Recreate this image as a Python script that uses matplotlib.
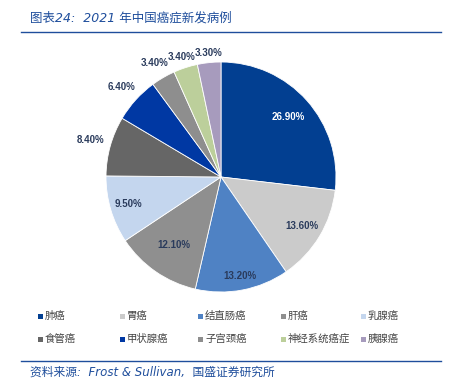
import matplotlib
matplotlib.use("Agg")
import matplotlib.pyplot as plt
import numpy as np
from matplotlib.patches import Rectangle
from matplotlib.lines import Line2D

categories = ["肺癌", "胃癌", "结直肠癌", "肝癌", "乳腺癌", "食管癌", "甲状腺癌", "子宫颈癌", "神经系统癌症", "胰腺癌"]
values = [26.9, 13.6, 13.2, 12.1, 9.5, 8.4, 6.4, 3.4, 3.4, 3.3]
colors = ["#023f91", "#cbcbcb", "#4f82c4", "#8f8f8f", "#c4d6ee", "#666666", "#0038a3", "#8e8e8e", "#bccf9b", "#a79bbd"]
label_radius = [0.78, 0.82, 0.88, 0.72, 0.84, 1.18, 1.17, 1.15, 1.10, 1.08]
label_color = ["white", "#2a3b5c", "#2a3b5c", "#2a3b5c", "#2a3b5c", "#2a3b5c", "#2a3b5c", "#2a3b5c", "#2a3b5c", "#2a3b5c"]

plt.rcParams['font.family'] = ['Noto Sans CJK SC', 'DejaVu Sans']

W, H = 454, 380
fig = plt.figure(figsize=(W / 100, H / 100), dpi=100)

# Pie axes: center (221,177), radius ~115 px
cx, cy, r = 221, 177, 115
ax = fig.add_axes([(cx - r) / W, 1 - (cy + r) / H, 2 * r / W, 2 * r / H])
wedges, _ = ax.pie(values, colors=colors, startangle=90, counterclock=False,
                   wedgeprops=dict(linewidth=0.6, edgecolor="white"))
ax.set_xlim(-1, 1)
ax.set_ylim(-1, 1)
ax.set_aspect("equal")
ax.axis("off")

for w, v, rad, c in zip(wedges, values, label_radius, label_color):
    ang = np.deg2rad((w.theta1 + w.theta2) / 2)
    ax.text(rad * np.cos(ang), rad * np.sin(ang), f"{v:.2f}%", ha="center", va="center",
            fontsize=7, fontweight="bold", color=c, family=["Liberation Sans", "DejaVu Sans"])

# Title and rule lines
title_color = "#1f4e9c"
fig.text(30 / W, 1 - 18 / H, "图表24:  2021 年中国癌症新发病例", fontsize=9, style="italic",
         color=title_color, va="center", ha="left", family=["DejaVu Sans", "Noto Sans CJK SC"])
fig.add_artist(Line2D([21 / W, 441 / W], [1 - 32 / H, 1 - 32 / H], color="#1f4e9c", lw=1.0))
fig.add_artist(Line2D([21 / W, 441 / W], [1 - 361 / H, 1 - 361 / H], color="#1f4e9c", lw=1.0))
fig.text(30 / W, 1 - 372 / H, "资料来源:  Frost & Sullivan,  国盛证券研究所", fontsize=8.5, style="italic",
         color=title_color, va="center", ha="left", family=["DejaVu Sans", "Noto Sans CJK SC"])

# Legend, drawn row-wise in a 5-column grid
col_x = [38, 120, 198, 281, 361]
row_y = [316, 339]
for i, (name, c) in enumerate(zip(categories, colors)):
    x = col_x[i % 5]
    y = row_y[i // 5]
    fig.add_artist(Rectangle((x / W, (H - y - 2.5) / H), 5 / W, 5 / H, facecolor=c,
                             edgecolor="none", transform=fig.transFigure))
    fig.text((x + 7) / W, 1 - y / H, name, fontsize=7.5, color="#444444", va="center", ha="left")

fig.savefig("out.png", dpi=100, facecolor="white")
